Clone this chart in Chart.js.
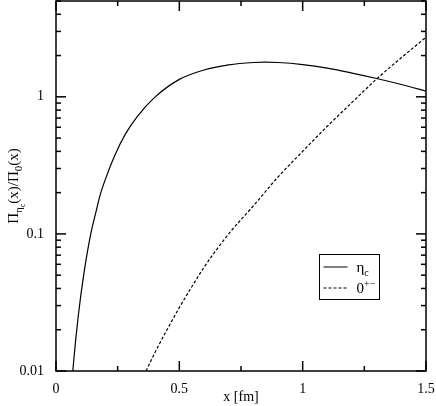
<!DOCTYPE html>
<html>
<head>
<meta charset="utf-8">
<script src="https://cdn.jsdelivr.net/npm/chart.js@4"></script>
<style>
  html, body { margin: 0; padding: 0; background: #fff; }
  #wrap { width: 436px; height: 406px; }
</style>
</head>
<body>
<div id="wrap"><canvas id="c" width="436" height="406"></canvas></div>
<script>
// eta_c curve (solid)
const etaX = [0.068, 0.08, 0.09, 0.1, 0.11, 0.125, 0.142, 0.16, 0.18, 0.2, 0.24, 0.28, 0.33, 0.4, 0.5, 0.6, 0.7, 0.8, 0.85, 0.9, 1.0, 1.1, 1.2, 1.3, 1.4, 1.5];
const etaY = [0.01, 0.017, 0.025, 0.035, 0.047, 0.07, 0.102, 0.14, 0.195, 0.25, 0.38, 0.53, 0.72, 0.99, 1.34, 1.57, 1.71, 1.78, 1.79, 1.78, 1.72, 1.62, 1.49, 1.36, 1.23, 1.10];

// 0^{+-} curve (dashed)
const zeroX = [0.365, 0.4, 0.45, 0.5, 0.55, 0.6, 0.7, 0.8, 0.9, 1.0, 1.1, 1.2, 1.3, 1.4, 1.5];
const zeroY = [0.01, 0.0135, 0.02, 0.029, 0.041, 0.057, 0.1, 0.16, 0.26, 0.40, 0.61, 0.91, 1.35, 1.93, 2.72];

const xRange = [0, 1.5];
const yRange = [0.01, 5];
const xTitle = 'x [fm]';

const serif = '"Liberation Serif", "DejaVu Serif", serif';

const toPts = (xs, ys) => xs.map((x, i) => ({ x: x, y: ys[i] }));

// draw text made of pieces with sub/superscripts
function drawRich(ctx, parts, x, y) {
    let cx = x;
    parts.forEach(p => {
        ctx.font = p.size + 'px ' + serif;
        ctx.fillText(p.t, cx, y + (p.dy || 0));
        cx += ctx.measureText(p.t).width;
    });
    return cx - x;
}
function richWidth(ctx, parts) {
    let w = 0;
    parts.forEach(p => {
        ctx.font = p.size + 'px ' + serif;
        w += ctx.measureText(p.t).width;
    });
    return w;
}

const yTitleParts = [
    { t: 'Π', size: 15 }, { t: 'η', size: 11, dy: 4 }, { t: 'c', size: 8, dy: 7 },
    { t: '(x)/Π', size: 15 }, { t: '0', size: 11, dy: 4 }, { t: '(x)', size: 15 }
];
const legendItems = [
    { dash: [], parts: [{ t: 'η', size: 15 }, { t: 'c', size: 10, dy: 4 }] },
    { dash: [3, 2], parts: [{ t: '0', size: 15 }, { t: '+−', size: 10, dy: -6 }] }
];

function tickLine(ctx, x1, y1, x2, y2) {
    ctx.beginPath();
    ctx.moveTo(x1, y1);
    ctx.lineTo(x2, y2);
    ctx.stroke();
}

const framePlugin = {
    id: 'frame',
    afterDraw(chart) {
        const ctx = chart.ctx;
        const a = chart.chartArea;
        const xs = chart.scales.x, ys = chart.scales.y;
        ctx.save();
        ctx.setLineDash([]);
        ctx.strokeStyle = '#000';
        ctx.lineWidth = 1.5;
        ctx.strokeRect(a.left, a.top, a.right - a.left, a.bottom - a.top);

        // inward ticks on all four sides
        for (let v = xRange[0]; v <= xRange[1] + 1e-9; v += 0.25) {
            const px = xs.getPixelForValue(v);
            const major = Math.abs(v / 0.5 - Math.round(v / 0.5)) < 1e-6;
            const len = major ? 10 : 5;
            tickLine(ctx, px, a.bottom, px, a.bottom - len);
            tickLine(ctx, px, a.top, px, a.top + len);
        }
        for (let e = -2; e <= 0; e++) {
            for (let m = 1; m <= 9; m++) {
                const v = m * Math.pow(10, e);
                if (v > yRange[1] + 1e-9) break;
                const py = ys.getPixelForValue(v);
                const len = m === 1 ? 10 : 5;
                tickLine(ctx, a.left, py, a.left + len, py);
                tickLine(ctx, a.right, py, a.right - len, py);
            }
        }

        // y axis title
        ctx.fillStyle = '#000';
        ctx.textBaseline = 'alphabetic';
        ctx.textAlign = 'left';
        ctx.save();
        const w = richWidth(ctx, yTitleParts);
        ctx.translate(18, (a.top + a.bottom) / 2 + w / 2);
        ctx.rotate(-Math.PI / 2);
        drawRich(ctx, yTitleParts, 0, 0);
        ctx.restore();

        // legend
        ctx.lineWidth = 1;
        const lx = 319.5, ly = 254.5, lw = 60, lh = 45;
        ctx.fillStyle = '#fff';
        ctx.fillRect(lx, ly, lw, lh);
        ctx.strokeRect(lx, ly, lw, lh);
        ctx.fillStyle = '#000';
        legendItems.forEach((it, i) => {
            const yy = ly + 12.5 + i * 21;
            ctx.setLineDash(it.dash);
            tickLine(ctx, lx + 4, yy, lx + 28, yy);
            ctx.setLineDash([]);
            drawRich(ctx, it.parts, lx + 37, yy + 5);
        });
        ctx.restore();
    }
};

new Chart(document.getElementById('c'), {
    type: 'line',
    data: {
        datasets: [
            {
                label: 'eta_c',
                data: toPts(etaX, etaY),
                borderColor: '#000',
                borderWidth: 1.2,
                pointRadius: 0,
                cubicInterpolationMode: 'monotone',
                fill: false
            },
            {
                label: '0+-',
                data: toPts(zeroX, zeroY),
                borderColor: '#000',
                borderWidth: 1.2,
                borderDash: [3, 2],
                pointRadius: 0,
                cubicInterpolationMode: 'monotone',
                fill: false
            }
        ]
    },
    options: {
        responsive: false,
        animation: false,
        layout: { padding: { top: 1, right: 10, left: 0, bottom: 0 } },
        plugins: {
            legend: { display: false },
            tooltip: { enabled: false }
        },
        scales: {
            x: {
                type: 'linear',
                min: xRange[0],
                max: xRange[1],
                grid: { display: false },
                border: { display: false },
                ticks: {
                    stepSize: 0.5,
                    autoSkip: false,
                    maxRotation: 0,
                    padding: 2,
                    color: '#000',
                    font: { family: serif, size: 14 },
                    callback: v => String(+v.toFixed(2))
                },
                title: {
                    display: true,
                    text: xTitle,
                    color: '#000',
                    font: { family: serif, size: 14 },
                    padding: { top: 0, bottom: 0 }
                },
                afterFit: s => { s.height = 35; s.paddingLeft = 0; s.paddingRight = 0; }
            },
            y: {
                type: 'logarithmic',
                min: yRange[0],
                max: yRange[1],
                grid: { display: false },
                border: { display: false },
                ticks: {
                    autoSkip: false,
                    padding: 4,
                    color: '#000',
                    font: { family: serif, size: 14 },
                    callback: v => {
                        const l = Math.log10(v);
                        return Math.abs(l - Math.round(l)) < 1e-6 ? String(+v.toFixed(2)) : '';
                    }
                },
                afterFit: s => { s.width = 56; s.paddingTop = 0; s.paddingBottom = 0; }
            }
        }
    },
    plugins: [framePlugin]
});
</script>
</body>
</html>
